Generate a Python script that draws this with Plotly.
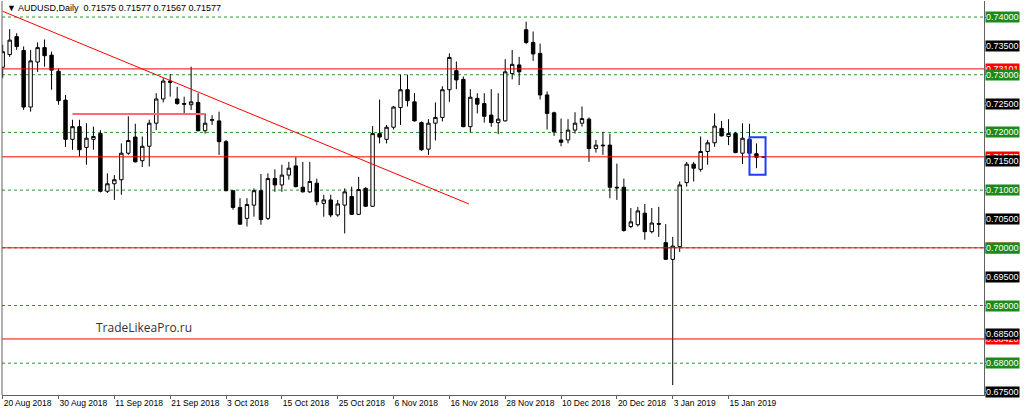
import numpy as np
import plotly.graph_objects as go

# AUDUSD daily bars, 20 Aug 2018 .. 22 Jan 2019 (one bar per trading day)
opens = [0.7313, 0.7335, 0.7366, 0.7342, 0.7244, 0.7322, 0.7347, 0.7334, 0.7306, 0.7256,
         0.7188, 0.7210, 0.7174, 0.7188, 0.7198, 0.7098, 0.7111, 0.7118, 0.7164, 0.7192,
         0.7151, 0.7176, 0.7216, 0.7258, 0.7289, 0.7258, 0.7250, 0.7248, 0.7252, 0.7203,
         0.7221, 0.7220, 0.7184, 0.7099, 0.7070, 0.7051, 0.7074, 0.7099, 0.7051, 0.7120,
         0.7109, 0.7126, 0.7142, 0.7105, 0.7097, 0.7112, 0.7077, 0.7083, 0.7057, 0.7074,
         0.7089, 0.7058, 0.7103, 0.7072, 0.7198, 0.7188, 0.7209, 0.7243, 0.7274, 0.7253,
         0.7217, 0.7171, 0.7216, 0.7226, 0.7274, 0.7307, 0.7292, 0.7210, 0.7259, 0.7250,
         0.7230, 0.7217, 0.7220, 0.7302, 0.7317, 0.7378, 0.7356, 0.7337, 0.7265, 0.7234,
         0.7187, 0.7187, 0.7204, 0.7216, 0.7223, 0.7172, 0.7178, 0.7178, 0.7105, 0.7105,
         0.7037, 0.7040, 0.7060, 0.7028, 0.7042, 0.7009, 0.6980, 0.7002, 0.7113, 0.7145,
         0.7136, 0.7167, 0.7182, 0.7207, 0.7193, 0.7198, 0.7164, 0.7188, 0.7163, 0.71575]
highs = [0.7352, 0.7379, 0.7372, 0.7349, 0.7343, 0.7356, 0.7361, 0.7340, 0.7311, 0.7265,
         0.7222, 0.7222, 0.7216, 0.7210, 0.7204, 0.7129, 0.7126, 0.7181, 0.7228, 0.7215,
         0.7193, 0.7222, 0.7268, 0.7294, 0.7301, 0.7279, 0.7262, 0.7314, 0.7268, 0.7233,
         0.7230, 0.7236, 0.7187, 0.7100, 0.7086, 0.7086, 0.7103, 0.7128, 0.7129, 0.7136,
         0.7144, 0.7149, 0.7157, 0.7149, 0.7149, 0.7120, 0.7092, 0.7092, 0.7083, 0.7103,
         0.7106, 0.7123, 0.7105, 0.7211, 0.7257, 0.7213, 0.7246, 0.7300, 0.7300, 0.7268,
         0.7219, 0.7223, 0.7252, 0.7280, 0.7337, 0.7323, 0.7297, 0.7275, 0.7268, 0.7268,
         0.7275, 0.7268, 0.7327, 0.7343, 0.7331, 0.7392, 0.7375, 0.7354, 0.7271, 0.7236,
         0.7224, 0.7223, 0.7235, 0.7245, 0.7226, 0.7187, 0.7201, 0.7198, 0.7146, 0.7120,
         0.7069, 0.7071, 0.7076, 0.7069, 0.7071, 0.7041, 0.7019, 0.7115, 0.7149, 0.7149,
         0.7193, 0.7187, 0.7233, 0.7220, 0.7223, 0.7201, 0.7216, 0.7215, 0.7181, 0.71577]
lows = [0.7294, 0.7331, 0.7343, 0.7239, 0.7236, 0.7305, 0.7314, 0.7274, 0.7248, 0.7175,
        0.7170, 0.7158, 0.7144, 0.7170, 0.7096, 0.7095, 0.7083, 0.7092, 0.7161, 0.7148,
        0.7140, 0.7141, 0.7204, 0.7252, 0.7262, 0.7248, 0.7233, 0.7239, 0.7202, 0.7198,
        0.7213, 0.7161, 0.7098, 0.7066, 0.7040, 0.7037, 0.7054, 0.7040, 0.7048, 0.7097,
        0.7097, 0.7118, 0.7105, 0.7096, 0.7095, 0.7074, 0.7054, 0.7053, 0.7054, 0.7025,
        0.7057, 0.7057, 0.7071, 0.7071, 0.7181, 0.7181, 0.7205, 0.7213, 0.7245, 0.7219,
        0.7168, 0.7161, 0.7186, 0.7219, 0.7253, 0.7275, 0.7209, 0.7200, 0.7233, 0.7217,
        0.7210, 0.7197, 0.7219, 0.7292, 0.7282, 0.7353, 0.7324, 0.7257, 0.7205, 0.7194,
        0.7176, 0.7181, 0.7198, 0.7210, 0.7149, 0.7165, 0.7161, 0.7086, 0.7083, 0.7028,
        0.7034, 0.7037, 0.7014, 0.7025, 0.7019, 0.6979, 0.6762, 0.6993, 0.7106, 0.7115,
        0.7132, 0.7144, 0.7175, 0.7193, 0.7178, 0.7164, 0.7145, 0.7163, 0.7138, 0.71567]
closes = [0.7340, 0.7360, 0.7349, 0.7244, 0.7324, 0.7347, 0.7333, 0.7308, 0.7255, 0.7188,
          0.7210, 0.7170, 0.7190, 0.7193, 0.7098, 0.7111, 0.7118, 0.7164, 0.7186, 0.7149,
          0.7176, 0.7216, 0.7258, 0.7289, 0.7287, 0.7250, 0.7249, 0.7253, 0.7203, 0.7216,
          0.7222, 0.7184, 0.7099, 0.7070, 0.7041, 0.7075, 0.7099, 0.7049, 0.7120, 0.7109,
          0.7126, 0.7138, 0.7106, 0.7097, 0.7115, 0.7080, 0.7083, 0.7057, 0.7076, 0.7097,
          0.7058, 0.7101, 0.7072, 0.7198, 0.7192, 0.7209, 0.7244, 0.7274, 0.7255, 0.7220,
          0.7170, 0.7216, 0.7226, 0.7274, 0.7330, 0.7291, 0.7210, 0.7261, 0.7249, 0.7228,
          0.7217, 0.7223, 0.7305, 0.7318, 0.7305, 0.7356, 0.7336, 0.7265, 0.7233, 0.7201,
          0.7183, 0.7204, 0.7216, 0.7224, 0.7172, 0.7178, 0.7177, 0.7105, 0.7104, 0.7030,
          0.7045, 0.7064, 0.7028, 0.7043, 0.7041, 0.6980, 0.7003, 0.7109, 0.7145, 0.7138,
          0.7167, 0.7182, 0.7211, 0.7194, 0.7198, 0.7165, 0.7190, 0.7164, 0.7157, 0.71577]

# date labels, one every 8 bars starting at bar 0
date_labels = ["20 Aug 2018", "30 Aug 2018", "11 Sep 2018", "21 Sep 2018", "3 Oct 2018",
               "15 Oct 2018", "25 Oct 2018", "6 Nov 2018", "16 Nov 2018", "28 Nov 2018",
               "10 Dec 2018", "20 Dec 2018", "3 Jan 2019", "15 Jan 2019"]
label_every = 8

# right price scale
scale_levels = [0.740, 0.735, 0.730, 0.725, 0.720, 0.715, 0.710, 0.705,
                0.700, 0.695, 0.690, 0.685, 0.680, 0.675]
green_levels = [0.74, 0.73, 0.72, 0.71, 0.70, 0.69, 0.68]

# drawn objects
red_levels = [0.73101, 0.71577, 0.70000, 0.68420]
red_level_text = ["0.73101", "0.71577", "0.70000", "0.68420"]
short_line = (10, 29, 0.7232)            # from bar, to bar, price
trend_line = ((0, 0.7410), (66.8, 0.7076))
marked_box = ((107.0, 0.71267), (109.3, 0.71915))

header = "AUDUSD,Daily  0.71575 0.71577 0.71567 0.71577"
watermark = "TradeLikeaPro.ru"

x = np.arange(len(opens))
GREEN = "#2a962a"
LABEL_GREEN = "#1b8a1b"
RED = "#ff0000"

fig = go.Figure(go.Candlestick(
    x=x, open=opens, high=highs, low=lows, close=closes,
    increasing=dict(line=dict(color="#000000", width=1), fillcolor="#ffffff"),
    decreasing=dict(line=dict(color="#000000", width=1), fillcolor="#000000"),
    whiskerwidth=0, hoverinfo="skip", showlegend=False,
))

shapes = []
for lv in green_levels:
    shapes.append(dict(type="line", xref="paper", x0=0, x1=1, yref="y", y0=lv, y1=lv,
                       line=dict(color=GREEN, width=1, dash="3px,3px"), layer="below"))
for lv in red_levels:
    shapes.append(dict(type="line", xref="paper", x0=0, x1=1, yref="y", y0=lv, y1=lv,
                       line=dict(color=RED, width=1)))
shapes.append(dict(type="line", x0=short_line[0], x1=short_line[1], y0=short_line[2], y1=short_line[2],
                   line=dict(color="#ff6a6a", width=2)))
(tx0, ty0), (tx1, ty1) = trend_line
shapes.append(dict(type="line", x0=tx0, y0=ty0, x1=tx1, y1=ty1, line=dict(color=RED, width=1)))
(bx0, by0), (bx1, by1) = marked_box
shapes.append(dict(type="rect", x0=bx0, x1=bx1, y0=by0, y1=by1, line=dict(color="#1f3cff", width=2)))
# left frame line
shapes.append(dict(type="line", xref="paper", yref="paper", x0=0, x1=0, y0=0, y1=1,
                   line=dict(color="#606060", width=1)))

annotations = []
# red price labels first so the scale labels sit on top
for lv, txt in zip(red_levels, red_level_text):
    annotations.append(dict(x=1, xref="paper", xanchor="left", xshift=1, y=lv, yref="y",
                            text=txt, showarrow=False, bgcolor=RED, borderpad=0,
                            font=dict(family="Liberation Sans", size=9, color="white")))
for lv in scale_levels:
    is_green = any(abs(lv - g) < 1e-9 for g in green_levels)
    annotations.append(dict(x=1, xref="paper", xanchor="left", xshift=1, y=lv, yref="y",
                            text=f"{lv:.5f}", showarrow=False,
                            bgcolor=LABEL_GREEN if is_green else "#000000", borderpad=0,
                            font=dict(family="Liberation Sans", size=9, color="white")))
annotations.append(dict(x=0, xref="paper", xanchor="left", xshift=3, y=1, yref="paper", yanchor="top",
                        yshift=0, text="\u25bc " + header, showarrow=False,
                        font=dict(family="Liberation Sans", size=9, color="#000000")))
annotations.append(dict(x=0.094, xref="paper", xanchor="left", y=0.145, yref="paper",
                        text=watermark, showarrow=False,
                        font=dict(family="Open Sans", size=12, color="#333333")))

fig.update_layout(
    width=1024, height=413,
    margin=dict(l=2, r=40, t=1, b=18),
    paper_bgcolor="white", plot_bgcolor="white",
    shapes=shapes, annotations=annotations,
    xaxis=dict(range=[-0.1, 140.6], rangeslider=dict(visible=False), showgrid=False, zeroline=False,
               tickvals=[i * label_every for i in range(len(date_labels))], ticktext=date_labels,
               tickangle=0, automargin=False,
               ticks="outside", ticklen=3, tickcolor="#606060", ticklabelposition="outside right",
               tickfont=dict(family="Liberation Sans", size=8.5, color="#000000"),
               showline=True, linecolor="#606060", linewidth=1),
    yaxis=dict(range=[0.67449, 0.74278], side="right", showgrid=False, zeroline=False, automargin=False,
               tickvals=scale_levels, showticklabels=False, ticks="outside", ticklen=3,
               tickcolor="#606060", showline=True, linecolor="#606060", linewidth=1),
)

fig.write_html("out.html", config={"displayModeBar": False},
               post_script="document.body.style.margin='0';document.body.style.overflow='hidden';")
